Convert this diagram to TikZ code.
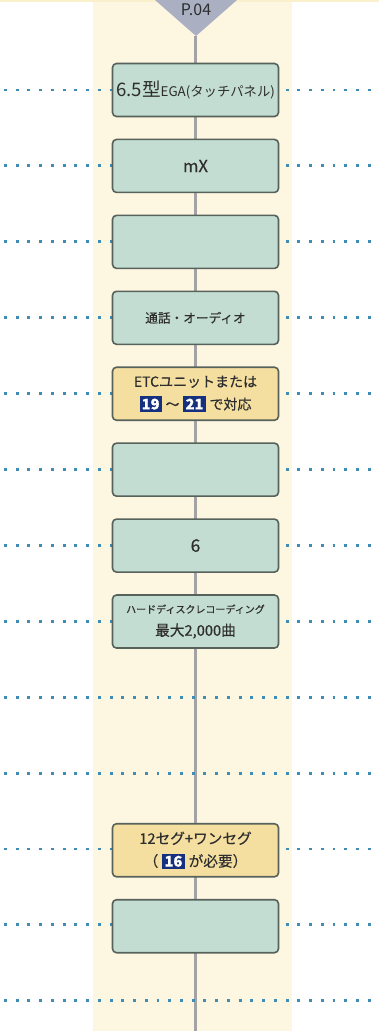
\documentclass[tikz,border=0pt]{standalone}
\usepackage{fontspec}
\setmainfont{Noto Sans CJK JP}
\newfontfamily\boxfont[FakeBold=0.4]{Noto Sans CJK JP}
\usetikzlibrary{positioning}
\usetikzlibrary{backgrounds}
\definecolor{bandcolor}{HTML}{FDF6E1}
\definecolor{stripcolor}{HTML}{FAF1CC}
\definecolor{boxgreen}{HTML}{C3DDD3}
\definecolor{boxyellow}{HTML}{F5DFA0}
\definecolor{boxline}{HTML}{56625A}
\definecolor{spinegray}{HTML}{A3A3A6}
\definecolor{tabgray}{HTML}{AAAFC2}
\definecolor{dotblue}{HTML}{3F8CB4}
\definecolor{tagnavy}{HTML}{14307E}
\definecolor{textgray}{HTML}{2E2E2E}
\newcommand{\numtag}[1]{{\setlength{\fboxsep}{1.6pt}\colorbox{tagnavy}{\textcolor{white}{\bfseries\fontsize{11}{12}\selectfont #1}}}}

\begin{document}
\begin{tikzpicture}[
        x=0.75pt, y=-0.75pt,
        node distance= 17.2pt and 0.5cm,
        box/.style={draw=boxline, line width=1.2pt, outer sep=0pt, rounded corners=3pt, fill=boxgreen, text=textgray, align=center, minimum width=124.5pt, minimum height=39.75pt, inner sep=1pt, font=\boxfont\fontsize{10}{16}\selectfont},
        ybox/.style={box, fill=boxyellow},
        dotline/.style={dotblue, line width=2.2pt, dash pattern=on 2.2pt off 6.6pt},
        spine/.style={spinegray, line width=1.6pt}
    ]
        \useasboundingbox (0,0) rectangle (379,1031);

        \node[box, font=\fontsize{10}{16}\selectfont] (n0) at (195.5,90) {{\fontsize{14}{16}\selectfont 6.5型}EGA(タッチパネル)};
        \node[box, below = of n0, font=\boxfont\fontsize{12.5}{16}\selectfont] (n1) {mX};
        \node[box, below = of n1] (n2) {};
        \node[box, below = of n2, font=\boxfont\fontsize{9.5}{16}\selectfont] (n3) {通話・オーディオ};
        \node[ybox, below = of n3, font=\boxfont\fontsize{10.5}{17}\selectfont] (n4) {ETCユニットまたは\\\numtag{19}\;〜\;\numtag{21}\;で対応};
        \node[box, below = of n4] (n5) {};
        \node[box, below = of n5, font=\boxfont\fontsize{13}{16}\selectfont] (n6) {6};
        \node[box, below = of n6] (n7) {{\fontsize{7.5}{9}\selectfont ハードディスクレコーディング}\\[1pt]{\fontsize{11}{12}\selectfont 最大2,000曲}};
        \node[ybox, below = 131.8pt of n7, font=\boxfont\fontsize{11}{17}\selectfont] (n8) {12セグ+ワンセグ\\（\;\numtag{16}\;が必要）};
        \node[box, below = of n8] (n9) {};

        \node[text=textgray, font=\fontsize{12}{14}\selectfont] (tab) at (196,10) {P.04};

        \begin{pgfonlayer}{background}
            \fill[bandcolor] (93,0) rectangle (292,1031);
            \fill[stripcolor] (0,0) rectangle (379,2);
            \fill[tabgray] (155,0) -- (237,0) -- (196,36) -- cycle;
            \coordinate (top) at (195.5,36);
            \coordinate (bottom) at (195.5,1031);
            \draw[spine] (top) -- (bottom);
            \foreach \i in {0,...,12}
                \draw[dotline] (4,90+75.9*\i) -- (379,90+75.9*\i);
        \end{pgfonlayer}
    \end{tikzpicture}
\end{document}
